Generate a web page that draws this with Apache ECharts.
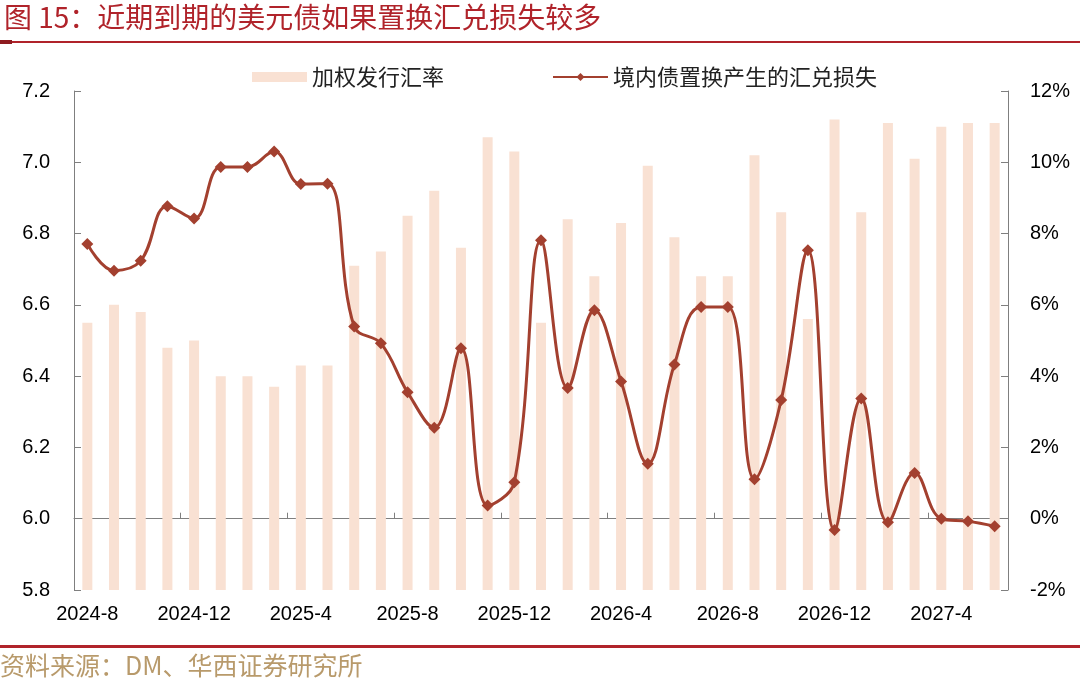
<!DOCTYPE html>
<html>
<head>
<meta charset="utf-8">
<script src="https://cdn.jsdelivr.net/npm/echarts@6/dist/echarts.min.js"></script>
<style>
  html, body { margin: 0; padding: 0; background: #fff; }
  #chart { width: 1080px; height: 683px; }
</style>
</head>
<body>
<div id="chart"></div>
<script>
// months 2024-8 .. 2027-6
var months = [];
for (var y = 2024, m = 8; months.length < 35; m++) {
    if (m > 12) { m = 1; y++; }
    months.push(y + '-' + m);
}

// 加权发行汇率 (left axis)
var rate = [6.55, 6.60, 6.58, 6.48, 6.50, 6.40, 6.40, 6.37, 6.43, 6.43,
            6.71, 6.75, 6.85, 6.92, 6.76, 7.07, 7.03, 6.55, 6.84, 6.68,
            6.83, 6.99, 6.79, 6.68, 6.68, 7.02, 6.86, 6.56, 7.12, 6.86,
            7.11, 7.01, 7.10, 7.11, 7.11];

// 境内债置换产生的汇兑损失, % (right axis)
var loss = [7.71, 6.96, 7.24, 8.77, 8.42, 9.87, 9.87, 10.30, 9.39, 9.40,
            5.39, 4.92, 3.55, 2.55, 4.78, 0.37, 1.02, 7.81, 3.67, 5.85,
            3.85, 1.54, 4.33, 5.94, 5.94, 1.11, 3.33, 7.53, -0.32, 3.37,
            -0.10, 1.28, 0.00, -0.07, -0.21];

var chart = echarts.init(document.getElementById('chart'));

var red = '#B0232A';
var lineColor = '#A3402F';
var barColor = '#F9E1D3';
var axisGrey = '#7F7F7F';
var numFont = 'Liberation Sans, Arial, sans-serif';
var cjkFont = 'Noto Sans CJK SC, sans-serif';

var option = {
    animation: false,
    backgroundColor: '#fff',
    graphic: [
        {
            type: 'text', left: 4, top: 3,
            style: { text: '图 15：近期到期的美元债如果置换汇兑损失较多', fill: red,
                     font: '28px ' + cjkFont }
        },
        {
            type: 'rect', shape: { x: 0, y: 41, width: 1080, height: 2 },
            style: { fill: red }
        },
        {
            type: 'rect', shape: { x: 0, y: 40, width: 12, height: 4 },
            style: { fill: '#8E1B20' }
        },
        {
            type: 'rect', shape: { x: 0, y: 645, width: 1080, height: 3 },
            style: { fill: red }
        },
        {
            type: 'text', left: 0, top: 653,
            style: { text: '资料来源：DM、华西证券研究所', fill: '#B89A6B',
                     font: '25px ' + cjkFont }
        }
    ],
    legend: {
        left: 247,
        top: 61,
        itemWidth: 55,
        itemHeight: 10,
        itemGap: 108,
        textStyle: { fontFamily: cjkFont, fontSize: 22, color: '#222' },
        data: [
            { name: '加权发行汇率', icon: 'rect' },
            { name: '境内债置换产生的汇兑损失' }
        ]
    },
    grid: { left: 74, right: 72, top: 91, bottom: 93 },
    xAxis: {
        type: 'category',
        data: months,
        boundaryGap: true,
        axisLine: { lineStyle: { color: axisGrey, width: 1 } },
        axisTick: { show: true, interval: 3, inside: true, length: 6,
                    lineStyle: { color: axisGrey } },
        axisLabel: { interval: 3, color: '#000', fontFamily: numFont, fontSize: 20, margin: 14 }
    },
    yAxis: [
        {
            type: 'value', min: 5.8, max: 7.2, interval: 0.2,
            splitLine: { show: false },
            axisLine: { show: true, lineStyle: { color: axisGrey } },
            axisTick: { show: true, inside: true, length: 7, lineStyle: { color: axisGrey } },
            axisLabel: { color: '#000', fontFamily: numFont, fontSize: 20, margin: 24,
                         formatter: function (v) { return v.toFixed(1); } }
        },
        {
            type: 'value', min: -2, max: 12, interval: 2,
            splitLine: { show: false },
            axisLine: { show: true, lineStyle: { color: axisGrey } },
            axisTick: { show: true, inside: true, length: 7, lineStyle: { color: axisGrey } },
            axisLabel: { color: '#000', fontFamily: numFont, fontSize: 20, margin: 22,
                         formatter: function (v) { return v + '%'; } }
        }
    ],
    series: [
        {
            name: '加权发行汇率',
            type: 'bar',
            yAxisIndex: 0,
            barWidth: 10,
            itemStyle: { color: barColor },
            data: rate
        },
        {
            name: '境内债置换产生的汇兑损失',
            type: 'line',
            yAxisIndex: 1,
            smooth: 0.4,
            symbol: 'diamond',
            symbolSize: 12,
            lineStyle: { color: lineColor, width: 3 },
            itemStyle: { color: lineColor },
            data: loss
        }
    ]
};

chart.setOption(option);
</script>
</body>
</html>
